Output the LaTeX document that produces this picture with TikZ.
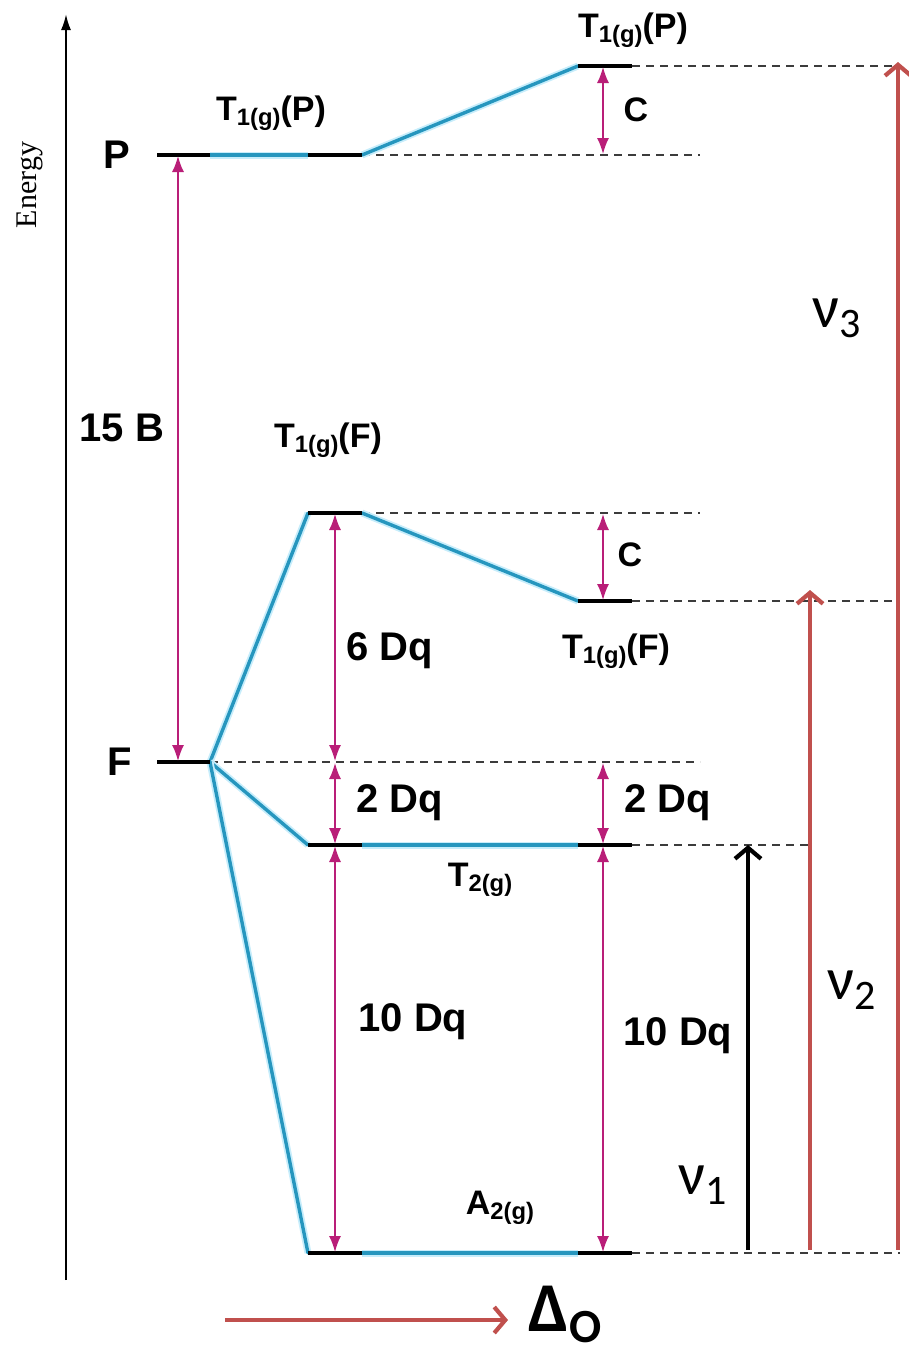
\documentclass[tikz,border=0pt]{standalone}
\usepackage{fontspec}
\setmainfont{Liberation Sans}
\newfontfamily\calfont{Carlito}
\newfontfamily\axisfont{Liberation Serif}
\usepackage{graphicx}
\usetikzlibrary{arrows.meta}
\definecolor{lvlcyan}{RGB}{38,150,190}
\definecolor{gapmag}{RGB}{185,30,120}
\definecolor{transred}{RGB}{192,80,77}
\definecolor{guidegray}{RGB}{60,60,60}
\newcommand{\lsub}[1]{\raisebox{-5pt}{\scalebox{0.7}{#1}}}
\newcommand{\nusub}[1]{\raisebox{-10pt}{\scalebox{0.7}{#1}}}
\begin{document}
\begin{tikzpicture}[x=1pt,y=-1pt,line join=round,
  lvl/.style={line width=4.5pt,black},
  link/.style={line width=3.4pt,lvlcyan,line cap=round,preaction={draw,cyan!22,line width=7pt}},
  guide/.style={line width=2.2pt,guidegray,dash pattern=on 8pt off 6pt},
  gap/.style={line width=1.5pt,gapmag,{Latex[length=16pt,width=12pt]}-{Latex[length=16pt,width=12pt]},shorten <=1pt,shorten >=1pt},
  trans/.style={line width=4.2pt,transred,-{Straight Barb[length=11pt,width=26pt]}},
  lab/.style={font=\bfseries\fontsize{40}{40}\selectfont},
  state/.style={font=\bfseries\fontsize{34}{34}\selectfont},
  nulab/.style={font=\calfont\fontsize{60}{60}\selectfont}]
  \useasboundingbox (0,0) rectangle (908,1357);
  \draw[line width=2pt,-{Latex[length=16pt,width=10pt]}] (66,1280) -- (66,14);
  \node[rotate=90,font=\axisfont\fontsize{30}{30}\selectfont] (energy) at (30,185) {Energy};
  \coordinate (P0) at (157,155);  \coordinate (P1) at (210,155);
  \coordinate (P2) at (308,155);  \coordinate (P3) at (362,155);
  \coordinate (TP0) at (578,66);  \coordinate (TP1) at (632,66);
  \coordinate (F0) at (157,762);  \coordinate (F1) at (210,762);
  \coordinate (TF0) at (308,513); \coordinate (TF1) at (362,513);
  \coordinate (TS0) at (578,601); \coordinate (TS1) at (632,601);
  \coordinate (T20) at (308,845); \coordinate (T21) at (362,845);
  \coordinate (T22) at (578,845); \coordinate (T23) at (632,845);
  \coordinate (A0) at (308,1253); \coordinate (A1) at (362,1253);
  \coordinate (A2) at (578,1253); \coordinate (A3) at (632,1253);
  \draw[guide] (P3) -- (700,155);
  \draw[guide] (TP1) -- (900,66);
  \draw[guide] (F1) -- (700,762);
  \draw[guide] (TF1) -- (700,513);
  \draw[guide] (TS1) -- (900,601);
  \draw[guide] (T23) -- (810,845);
  \draw[guide] (A3) -- (900,1253);
  \foreach \a/\b in {P1/P2,P3/TP0,F1/TF0,TF1/TS0,F1/T20,T21/T22,F1/A0,A1/A2}
    \draw[link] (\a) -- (\b);
  \foreach \a/\b in {P0/P1,P2/P3,TP0/TP1,F0/F1,TF0/TF1,TS0/TS1,T20/T21,T22/T23,A0/A1,A2/A3}
    \draw[lvl] (\a) -- (\b);
  \draw[gap] (178,155) -- (178,762);
  \draw[gap] (603,66) -- (603,155);
  \draw[gap] (603,513) -- (603,601);
  \draw[gap] (335,513) -- (335,762);
  \draw[gap] (335,762) -- (335,845);
  \draw[gap] (603,762) -- (603,845);
  \draw[gap] (335,845) -- (335,1253);
  \draw[gap] (603,845) -- (603,1253);
  \draw[line width=4.2pt,black,-{Straight Barb[length=11pt,width=26pt]}] (748,1250) -- (748,845);
  \draw[trans] (810,1250) -- (810,590);
  \draw[trans] (898,1250) -- (898,62);
  \draw[trans] (225,1320) -- (508,1320);
  \node[lab] (Plab) at (117,155) {P};
  \node[lab] (Flab) at (120,762) {F};
  \node[lab] (gapB) at (122,428) {15 B};
  \node[state] (TPlow) at (271,113) {T\lsub{1(g)}(P)};
  \node[state] (TPtop) at (633,30) {T\lsub{1(g)}(P)};
  \node[state] (TFtop) at (328,440) {T\lsub{1(g)}(F)};
  \node[state] (TFlow) at (616,651) {T\lsub{1(g)}(F)};
  \node[state] (T2lab) at (480,880) {T\lsub{2(g)}};
  \node[state] (A2lab) at (500,1208) {A\lsub{2(g)}};
  \node[state] (Ctop) at (636,110) {C};
  \node[state] (Clow) at (630,555) {C};
  \node[lab] (six) at (390,651) {6 Dq};
  \node[lab] (twoL) at (400,803) {2 Dq};
  \node[lab] (twoR) at (668,803) {2 Dq};
  \node[lab] (tenL) at (413,1022) {10 Dq};
  \node[lab] (tenR) at (678,1036) {10 Dq};
  \node[nulab] (nu1) at (703,1185) {ν\nusub{1}};
  \node[nulab] (nu2) at (852,990) {ν\nusub{2}};
  \node[nulab] (nu3) at (837,318) {ν\nusub{3}};
  \node[font=\calfont\bfseries\fontsize{70}{70}\selectfont] (delta) at (565,1314) {Δ\raisebox{-11pt}{\scalebox{0.68}{O}}};
\end{tikzpicture}
\end{document}
